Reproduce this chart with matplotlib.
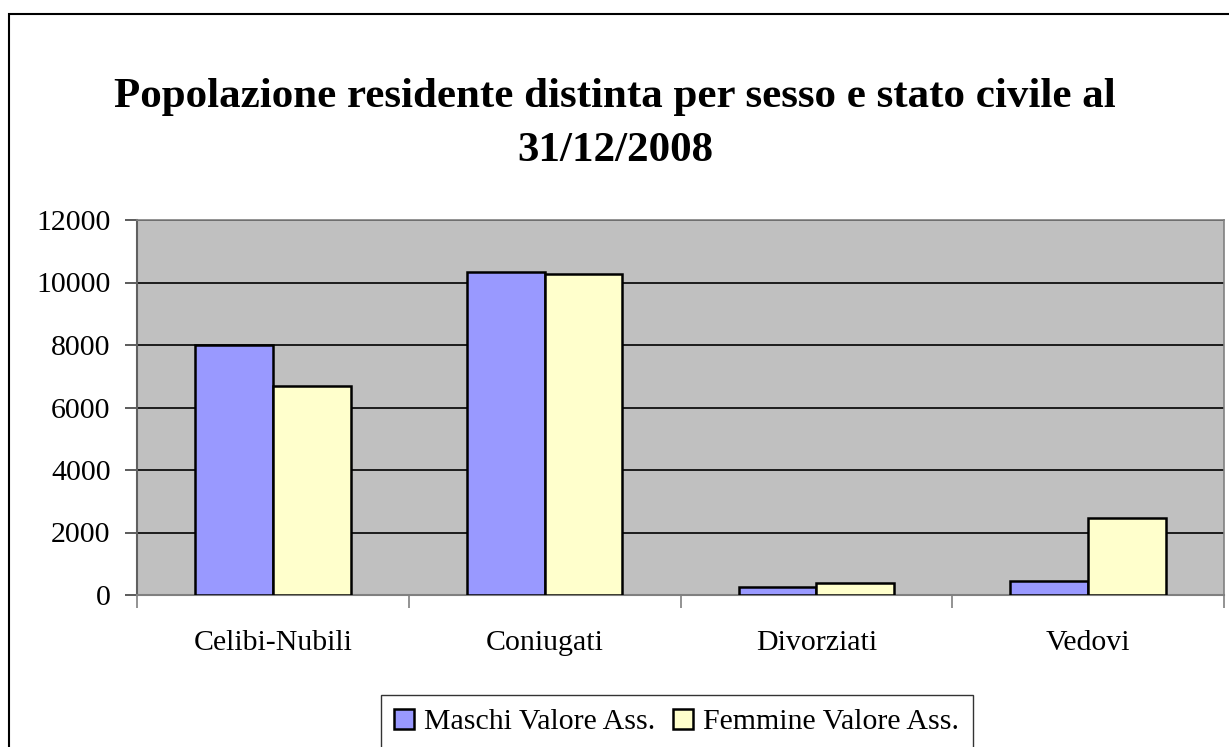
import matplotlib
matplotlib.use("Agg")
import matplotlib.pyplot as plt
from matplotlib.patches import Rectangle
import numpy as np

categorie = ["Celibi-Nubili", "Coniugati", "Divorziati", "Vedovi"]
maschi = [8000, 10330, 260, 450]
femmine = [6690, 10270, 390, 2460]
serie = ["Maschi Valore Ass.", "Femmine Valore Ass."]
yticks = [0, 2000, 4000, 6000, 8000, 10000, 12000]

plt.rcParams['font.family'] = ['Liberation Serif', 'DejaVu Serif']

W, H = 1229, 747
fig = plt.figure(figsize=(W / 100, H / 100), dpi=100)

# outer chart border (left and top only visible)
fig.add_artist(Rectangle((9 / W, -0.01), 1.2, 1 - 14 / H + 0.01, transform=fig.transFigure,
                         fill=False, edgecolor='black', linewidth=1.5))

ax = fig.add_axes([137 / W, (H - 595) / H, (1224 - 137) / W, (595 - 220) / H])
ax.set_facecolor('#c0c0c0')

x = np.arange(len(categorie))
bw = 1 / 3.5
ax.bar(x - bw / 2, maschi, bw, color='#9999ff', edgecolor='black', linewidth=1.8,
       label=serie[0], zorder=3)
ax.bar(x + bw / 2, femmine, bw, color='#ffffcc', edgecolor='black', linewidth=1.8,
       label=serie[1], zorder=3)

ax.set_xlim(-0.5, len(categorie) - 0.5)
ax.set_ylim(0, 12000)
ax.set_yticks(yticks)
ax.set_yticklabels([str(v) for v in yticks], fontsize=21.5)
ax.yaxis.grid(True, color='black', linewidth=1.2, zorder=0)
ax.set_axisbelow(True)

ax.set_xticks(np.arange(len(categorie) + 1) - 0.5)
ax.set_xticklabels([])
ax.set_xticks(x, minor=True)
ax.set_xticklabels(categorie, minor=True, fontsize=21.5)
ax.tick_params(axis='x', which='minor', length=0, pad=25)
ax.tick_params(axis='x', which='major', length=9, width=1.2, color='#808080')
ax.tick_params(axis='y', length=9, width=1.2, color='#404040', pad=10)

for s in ['top', 'right']:
    ax.spines[s].set_color('#808080')
    ax.spines[s].set_linewidth(1.2)
ax.spines['left'].set_color('#606060')
ax.spines['left'].set_linewidth(1.5)
ax.spines['bottom'].set_color('#808080')
ax.spines['bottom'].set_linewidth(1.5)

fig.text(615 / W, 1 - 97 / H, "Popolazione residente distinta per sesso e stato civile al",
         ha='center', va='center', fontsize=31, fontweight='bold')
fig.text(615 / W, 1 - 151 / H, "31/12/2008",
         ha='center', va='center', fontsize=31, fontweight='bold')

leg = fig.legend(loc='lower left', bbox_to_anchor=(381 / W, -0.002), ncol=2, fontsize=21.5,
                 frameon=True, fancybox=False, edgecolor='black', handlelength=0.65,
                 handleheight=0.65, handletextpad=0.35, columnspacing=0.6, borderpad=0.45,
                 borderaxespad=0)
leg.get_frame().set_linewidth(1.0)

fig.savefig("out.png", dpi=100)
